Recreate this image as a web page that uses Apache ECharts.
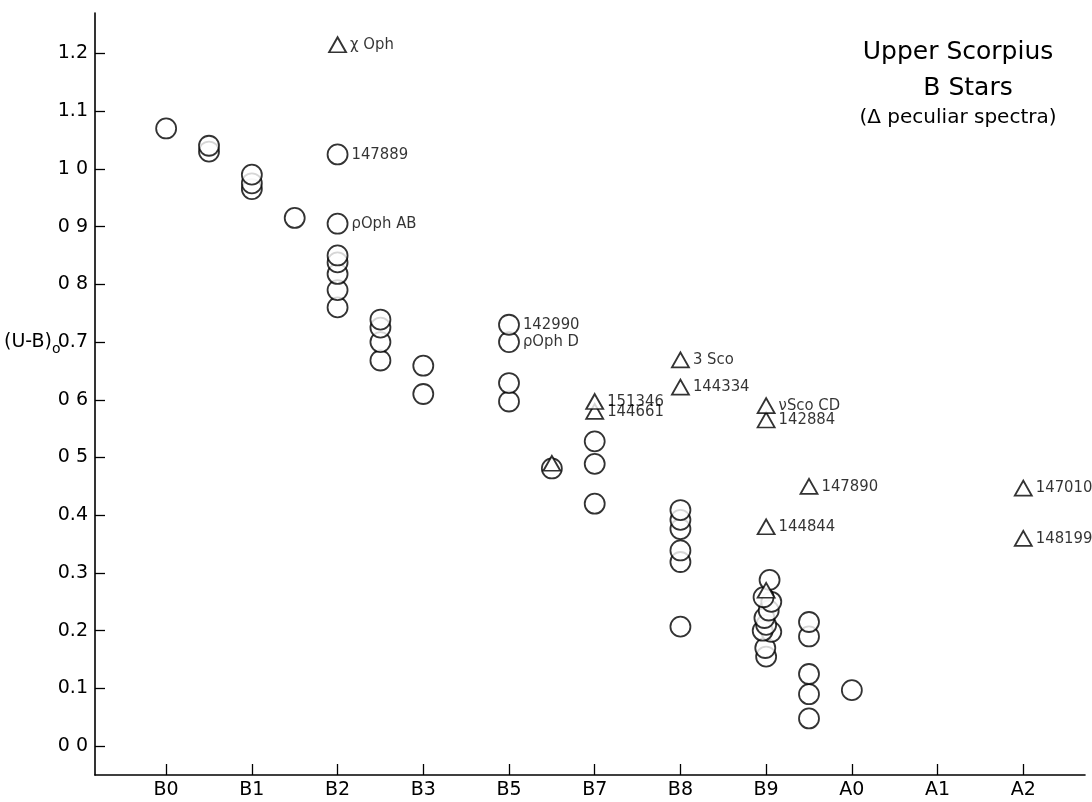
<!DOCTYPE html>
<html>
<head>
<meta charset="utf-8">
<script src="https://cdn.jsdelivr.net/npm/echarts@6/dist/echarts.min.js"></script>
<style>
  html, body { margin: 0; padding: 0; background: #fff; }
  #chart { width: 1092px; height: 802px; }
</style>
</head>
<body>
<div id="chart"></div>
<script>
// spectral type codes: B0=0, B1=1, B2=2, B3=3, B5=4, B7=5, B8=6, B9=7, A0=8, A1=9, A2=10
const spectralTypes = ['B0', 'B1', 'B2', 'B3', 'B5', 'B7', 'B8', 'B9', 'A0', 'A1', 'A2'];
const yTickLabels = ['0 0', '0.1', '0.2', '0.3', '0.4', '0 5', '0 6', '0.7', '0 8', '0 9', '1 0', '1.1', '1.2'];

// normal B stars: [type code, (U-B)o, label]
const normalStars = [
    [0, 1.07, ''],
    [0.5, 1.04, ''], [0.5, 1.03, ''],
    [1, 0.99, ''], [1, 0.975, ''], [1, 0.965, ''],
    [1.5, 0.915, ''],
    [2, 1.025, '147889'],
    [2, 0.905, 'ρOph AB'],
    [2, 0.85, ''], [2, 0.838, ''], [2, 0.818, ''], [2, 0.79, ''], [2, 0.76, ''],
    [2.5, 0.739, ''], [2.5, 0.725, ''], [2.5, 0.70, ''], [2.5, 0.668, ''],
    [3, 0.659, ''], [3, 0.61, ''],
    [4, 0.73, '142990'], [4, 0.70, 'ρOph D'], [4, 0.629, ''], [4, 0.597, ''],
    [4.5, 0.481, ''],
    [5, 0.528, ''], [5, 0.489, ''], [5, 0.42, ''],
    [6, 0.409, ''], [6, 0.392, ''], [6, 0.376, ''], [6, 0.339, ''], [6, 0.319, ''], [6, 0.207, ''],
    [7.04, 0.288, ''], [6.97, 0.258, ''], [7.06, 0.25, ''], [7.03, 0.235, ''], [6.98, 0.222, ''],
    [7.0, 0.21, ''], [6.96, 0.2, ''], [7.06, 0.198, ''], [6.99, 0.17, ''], [7.0, 0.155, ''],
    [7.5, 0.215, ''], [7.5, 0.19, ''], [7.5, 0.125, ''], [7.5, 0.09, ''], [7.5, 0.048, ''],
    [8, 0.097, '']
];

// peculiar spectra (triangles)
const peculiarStars = [
    [2, 1.215, 'χ Oph'],
    [4.5, 0.49, ''],
    [5, 0.597, '151346'], [5, 0.58, '144661'],
    [6, 0.669, '3 Sco'], [6, 0.622, '144334'],
    [7, 0.59, 'νSco CD'], [7, 0.565, '142884'],
    [7, 0.38, '144844'],
    [7, 0.27, ''],
    [7.5, 0.45, '147890'],
    [10, 0.447, '147010'], [10, 0.36, '148199']
];

const FONT = '"DejaVu Sans", sans-serif';
const LABEL_FONT = '"DejaVu Sans Condensed", "DejaVu Sans", sans-serif';
const INK = '#000';

// lower points first so the upper ones overlap them
function toSeriesData(rows) {
    return rows.slice().sort(function (a, b) { return a[1] - b[1]; }).map(function (r) {
        return { value: [r[0], r[1]], name: r[2] };
    });
}

const markLabel = {
    show: true,
    position: 'right',
    distance: 3,
    formatter: function (p) { return p.name; },
    fontFamily: LABEL_FONT,
    fontSize: 16.5,
    color: INK
};

const chart = echarts.init(document.getElementById('chart'), null, { renderer: 'canvas' });

chart.setOption({
    backgroundColor: '#fff',
    animation: false,
    grid: { left: 95, right: 7, top: 13, bottom: 27 },
    xAxis: {
        type: 'value',
        min: -0.83,
        max: 10.72,
        splitLine: { show: false },
        axisLine: { show: true, onZero: false, lineStyle: { color: INK, width: 1.6 } },
        axisTick: {
            show: true, inside: true, length: 11,
            customValues: spectralTypes.map(function (s, i) { return i; }),
            lineStyle: { color: INK, width: 1.3 }
        },
        axisLabel: {
            margin: 6,
            customValues: spectralTypes.map(function (s, i) { return i; }),
            formatter: function (v) { return spectralTypes[Math.round(v)]; },
            fontFamily: FONT, fontSize: 19, color: INK
        }
    },
    yAxis: {
        type: 'value',
        min: -0.05,
        max: 1.27,
        splitLine: { show: false },
        axisLine: { show: true, onZero: false, lineStyle: { color: INK, width: 1.6 } },
        axisTick: {
            show: true, inside: true, length: 10,
            customValues: yTickLabels.map(function (s, i) { return i / 10; }),
            lineStyle: { color: INK, width: 1.3 }
        },
        axisLabel: {
            margin: 7,
            customValues: yTickLabels.map(function (s, i) { return i / 10; }),
            formatter: function (v) { return yTickLabels[Math.round(v * 10)]; },
            fontFamily: FONT, fontSize: 19, color: INK
        }
    },
    graphic: [
        { type: 'text', left: 4, top: 333, style: {
            text: '{a|(U-B)}{b|o}',
            rich: {
                a: { fontFamily: FONT, fontSize: 19, fill: INK },
                b: { fontFamily: FONT, fontSize: 14, fill: INK, padding: [14, 0, 0, 0] }
            }
        } },
        { type: 'text', x: 958, y: 52, style: {
            text: 'Upper Scorpius', textAlign: 'center', textVerticalAlign: 'middle',
            font: '25px ' + FONT, fill: INK } },
        { type: 'text', x: 968, y: 88, style: {
            text: 'B Stars', textAlign: 'center', textVerticalAlign: 'middle',
            font: '25px ' + FONT, fill: INK } },
        { type: 'text', x: 958, y: 118, style: {
            text: '(Δ peculiar spectra)', textAlign: 'center', textVerticalAlign: 'middle',
            font: '20px ' + FONT, fill: INK } }
    ],
    series: [
        {
            name: 'B stars',
            type: 'scatter',
            symbol: 'circle',
            symbolSize: 20,
            itemStyle: { color: '#fff', borderColor: INK, borderWidth: 1.8 },
            label: markLabel,
            data: toSeriesData(normalStars)
        },
        {
            name: 'peculiar',
            type: 'scatter',
            symbol: 'triangle',
            symbolSize: [17, 15],
            itemStyle: { color: '#fff', borderColor: INK, borderWidth: 1.8 },
            label: markLabel,
            data: toSeriesData(peculiarStars)
        }
    ]
});
</script>
</body>
</html>
